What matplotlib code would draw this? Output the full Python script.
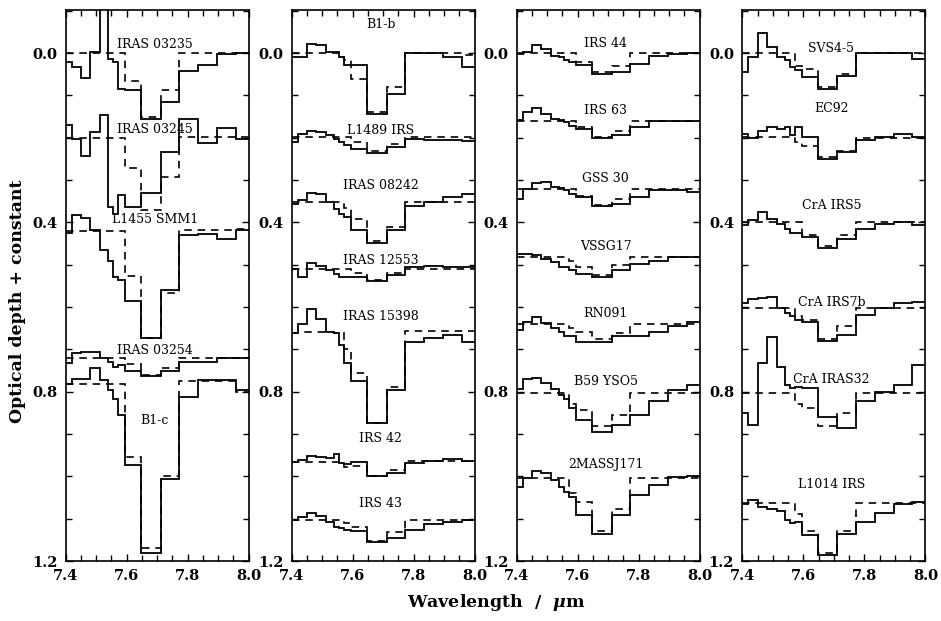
import matplotlib
matplotlib.use('Agg')
import matplotlib.pyplot as plt
from matplotlib.ticker import MultipleLocator

plt.rcParams['font.family'] = 'DejaVu Serif'
plt.rcParams['font.weight'] = 'bold'
plt.rcParams['mathtext.fontset'] = 'dejavuserif'

# common wavelength bin edges (micron)
edges = [7.400, 7.420, 7.450, 7.480, 7.512, 7.540, 7.556, 7.572, 7.596,
         7.648, 7.711, 7.773, 7.835, 7.896, 7.957, 8.000]

# ---------------- panel 1 ----------------
p1_names = ['IRAS 03235', 'IRAS 03245', 'L1455 SMM1', 'IRAS 03254', 'B1-c']
p1_label_y = [-0.021, 0.181, 0.393, 0.702, 0.869]
p1_obs = [
    [0.020, 0.033, 0.059, -0.003, -0.150, 0.013, 0.021, 0.084, 0.088, 0.155, 0.116, 0.041, 0.029, 0.001, 0.000],
    [0.170, 0.202, 0.243, 0.187, 0.146, 0.363, 0.379, 0.335, 0.363, 0.331, 0.233, 0.156, 0.212, 0.176, 0.204],
    [0.425, 0.383, 0.390, 0.418, 0.465, 0.490, 0.530, 0.535, 0.585, 0.674, 0.560, 0.430, 0.428, 0.440, 0.418],
    [0.733, 0.709, 0.707, 0.707, 0.721, 0.729, 0.741, 0.737, 0.750, 0.763, 0.750, 0.729, 0.729, 0.721, 0.721],
    [0.782, 0.769, 0.769, 0.745, 0.772, 0.796, 0.816, 0.855, 0.973, 1.182, 1.006, 0.812, 0.773, 0.773, 0.795],
]
p1_fit = [
    [0.000, 0.000, 0.000, 0.000, 0.000, 0.000, 0.000, 0.000, 0.065, 0.151, 0.087, 0.000, 0.000, 0.000, 0.000],
    [0.200, 0.200, 0.200, 0.200, 0.200, 0.200, 0.200, 0.200, 0.272, 0.370, 0.293, 0.198, 0.198, 0.198, 0.198],
    [0.421, 0.421, 0.421, 0.421, 0.421, 0.421, 0.421, 0.421, 0.527, 0.672, 0.566, 0.417, 0.417, 0.417, 0.415],
    [0.721, 0.721, 0.721, 0.721, 0.721, 0.721, 0.721, 0.721, 0.735, 0.761, 0.745, 0.721, 0.721, 0.721, 0.721],
    [0.782, 0.782, 0.782, 0.782, 0.782, 0.782, 0.782, 0.782, 0.954, 1.170, 1.000, 0.775, 0.775, 0.775, 0.800],
]

# ---------------- panel 2 ----------------
p2_names = ['B1-b', 'L1489 IRS', 'IRAS 08242', 'IRAS 12553', 'IRAS 15398', 'IRS 42', 'IRS 43']
p2_label_y = [-0.068, 0.183, 0.313, 0.491, 0.623, 0.910, 1.065]
p2_obs = [
    [0.008, 0.008, -0.022, -0.020, -0.002, -0.002, 0.009, 0.029, 0.029, 0.143, 0.096, 0.000, 0.000, 0.008, 0.033],
    [0.210, 0.191, 0.183, 0.187, 0.194, 0.202, 0.210, 0.218, 0.226, 0.236, 0.222, 0.202, 0.205, 0.206, 0.208],
    [0.356, 0.348, 0.330, 0.332, 0.352, 0.368, 0.380, 0.387, 0.419, 0.449, 0.419, 0.362, 0.352, 0.340, 0.332],
    [0.509, 0.529, 0.496, 0.502, 0.513, 0.521, 0.528, 0.528, 0.529, 0.539, 0.525, 0.506, 0.502, 0.506, 0.506],
    [0.662, 0.640, 0.604, 0.627, 0.659, 0.662, 0.690, 0.733, 0.775, 0.873, 0.795, 0.682, 0.672, 0.665, 0.682],
    [0.965, 0.961, 0.952, 0.954, 0.957, 0.946, 0.969, 0.971, 0.965, 0.998, 0.993, 0.969, 0.963, 0.960, 0.964],
    [1.103, 1.095, 1.086, 1.094, 1.107, 1.119, 1.121, 1.126, 1.130, 1.154, 1.146, 1.126, 1.112, 1.107, 1.103],
]
p2_fit = [
    [0.000, 0.000, 0.000, 0.000, 0.000, 0.000, 0.009, 0.015, 0.060, 0.139, 0.080, 0.000, 0.000, 0.000, 0.005],
    [0.198, 0.198, 0.198, 0.198, 0.198, 0.198, 0.198, 0.198, 0.210, 0.232, 0.215, 0.198, 0.198, 0.198, 0.198],
    [0.352, 0.352, 0.352, 0.352, 0.352, 0.352, 0.352, 0.365, 0.391, 0.443, 0.410, 0.352, 0.352, 0.352, 0.352],
    [0.509, 0.509, 0.509, 0.509, 0.509, 0.509, 0.509, 0.509, 0.520, 0.535, 0.520, 0.509, 0.509, 0.509, 0.509],
    [0.662, 0.659, 0.659, 0.659, 0.659, 0.662, 0.662, 0.700, 0.756, 0.875, 0.788, 0.656, 0.656, 0.656, 0.656],
    [0.965, 0.965, 0.965, 0.965, 0.965, 0.965, 0.965, 0.977, 0.975, 0.998, 0.985, 0.963, 0.963, 0.963, 0.963],
    [1.103, 1.103, 1.103, 1.103, 1.103, 1.103, 1.103, 1.110, 1.120, 1.152, 1.132, 1.103, 1.103, 1.103, 1.103],
]

# ---------------- panel 3 ----------------
p3_names = ['IRS 44', 'IRS 63', 'GSS 30', 'VSSG17', 'RN091', 'B59 YSO5', '2MASSJ171']
p3_label_y = [-0.024, 0.135, 0.297, 0.457, 0.615, 0.775, 0.973]
p3_obs = [
    [0.002, -0.002, -0.020, -0.010, 0.006, 0.009, 0.017, 0.021, 0.029, 0.050, 0.045, 0.025, 0.006, 0.002, 0.000],
    [0.159, 0.139, 0.129, 0.143, 0.155, 0.159, 0.163, 0.171, 0.179, 0.200, 0.194, 0.175, 0.161, 0.161, 0.161],
    [0.344, 0.320, 0.307, 0.305, 0.317, 0.319, 0.324, 0.332, 0.340, 0.361, 0.356, 0.340, 0.323, 0.324, 0.328],
    [0.474, 0.474, 0.478, 0.486, 0.494, 0.506, 0.506, 0.513, 0.521, 0.528, 0.512, 0.498, 0.490, 0.482, 0.482],
    [0.653, 0.635, 0.624, 0.638, 0.650, 0.658, 0.668, 0.668, 0.683, 0.683, 0.668, 0.668, 0.658, 0.645, 0.635],
    [0.794, 0.771, 0.768, 0.780, 0.794, 0.808, 0.816, 0.839, 0.867, 0.894, 0.879, 0.855, 0.823, 0.796, 0.784],
    [1.024, 1.005, 0.987, 0.991, 1.009, 1.024, 1.037, 1.049, 1.091, 1.135, 1.091, 1.044, 1.020, 1.001, 0.998],
]
p3_fit = [
    [0.000, 0.000, 0.000, 0.000, 0.000, 0.000, 0.000, 0.000, 0.020, 0.045, 0.030, 0.000, 0.000, 0.000, 0.000],
    [0.161, 0.161, 0.161, 0.161, 0.161, 0.161, 0.161, 0.161, 0.175, 0.198, 0.183, 0.161, 0.161, 0.161, 0.161],
    [0.322, 0.322, 0.322, 0.322, 0.322, 0.322, 0.322, 0.322, 0.338, 0.358, 0.345, 0.322, 0.322, 0.322, 0.322],
    [0.482, 0.482, 0.482, 0.482, 0.482, 0.482, 0.482, 0.490, 0.505, 0.525, 0.500, 0.482, 0.482, 0.482, 0.482],
    [0.640, 0.640, 0.640, 0.640, 0.640, 0.640, 0.640, 0.650, 0.660, 0.675, 0.662, 0.640, 0.640, 0.640, 0.640],
    [0.802, 0.802, 0.802, 0.802, 0.802, 0.802, 0.802, 0.830, 0.842, 0.880, 0.855, 0.802, 0.802, 0.802, 0.802],
    [1.003, 1.003, 1.003, 1.003, 1.003, 1.003, 1.003, 1.040, 1.060, 1.130, 1.078, 1.003, 1.003, 1.003, 1.003],
]

# ---------------- panel 4 ----------------
p4_names = ['SVS4-5', 'EC92', 'CrA IRS5', 'CrA IRS7b', 'CrA IRAS32', 'L1014 IRS']
p4_label_y = [-0.010, 0.131, 0.360, 0.588, 0.772, 1.020]
p4_obs = [
    [0.045, 0.008, -0.047, -0.014, 0.009, 0.017, 0.033, 0.039, 0.057, 0.084, 0.053, 0.000, 0.000, 0.000, 0.013],
    [0.191, 0.200, 0.183, 0.175, 0.179, 0.175, 0.194, 0.175, 0.197, 0.250, 0.234, 0.206, 0.197, 0.191, 0.198],
    [0.405, 0.395, 0.376, 0.391, 0.403, 0.415, 0.425, 0.425, 0.435, 0.460, 0.439, 0.415, 0.403, 0.399, 0.405],
    [0.591, 0.582, 0.579, 0.577, 0.602, 0.615, 0.622, 0.630, 0.635, 0.680, 0.666, 0.619, 0.603, 0.590, 0.587],
    [0.851, 0.879, 0.731, 0.670, 0.742, 0.784, 0.792, 0.790, 0.792, 0.859, 0.886, 0.823, 0.800, 0.784, 0.737],
    [1.066, 1.056, 1.073, 1.076, 1.083, 1.103, 1.111, 1.109, 1.138, 1.186, 1.137, 1.107, 1.087, 1.065, 1.061],
]
p4_fit = [
    [0.000, 0.000, 0.000, 0.000, 0.000, 0.000, 0.000, 0.030, 0.037, 0.080, 0.050, 0.000, 0.000, 0.000, 0.000],
    [0.198, 0.198, 0.198, 0.198, 0.198, 0.198, 0.198, 0.210, 0.220, 0.245, 0.230, 0.200, 0.200, 0.200, 0.200],
    [0.399, 0.399, 0.399, 0.399, 0.399, 0.399, 0.399, 0.399, 0.430, 0.455, 0.430, 0.399, 0.399, 0.399, 0.399],
    [0.603, 0.603, 0.603, 0.603, 0.603, 0.603, 0.603, 0.620, 0.630, 0.675, 0.645, 0.603, 0.603, 0.603, 0.603],
    [0.802, 0.802, 0.802, 0.802, 0.802, 0.802, 0.802, 0.830, 0.839, 0.880, 0.851, 0.802, 0.802, 0.802, 0.802],
    [1.062, 1.062, 1.062, 1.062, 1.062, 1.062, 1.062, 1.090, 1.130, 1.180, 1.130, 1.062, 1.062, 1.062, 1.062],
]

panels = [
    (p1_names, p1_label_y, p1_obs, p1_fit),
    (p2_names, p2_label_y, p2_obs, p2_fit),
    (p3_names, p3_label_y, p3_obs, p3_fit),
    (p4_names, p4_label_y, p4_obs, p4_fit),
]

fig = plt.figure(figsize=(9.41, 6.21), dpi=100)

lefts = [0.0698, 0.3100, 0.5491, 0.7889]
for left, (names, label_y, obs, fit) in zip(lefts, panels):
    ax = fig.add_axes([left, 0.0966, 0.1945, 0.8873])
    for name, ly, o, f in zip(names, label_y, obs, fit):
        ax.stairs(f, edges, baseline=None, color='k', lw=1.2,
                  linestyle=(0, (4.5, 3.5)))
        ax.stairs(o, edges, baseline=None, color='k', lw=1.3)
        ax.text(7.692, ly, name, ha='center', va='center', fontsize=9,
                fontweight='normal', zorder=1)
    ax.set_xlim(7.4, 8.0)
    ax.set_ylim(1.2, -0.102)
    ax.xaxis.set_minor_locator(MultipleLocator(0.05))
    ax.yaxis.set_minor_locator(MultipleLocator(0.1))
    ax.set_xticks([7.4, 7.6, 7.8, 8.0])
    ax.set_xticklabels(['7.4', '7.6', '7.8', '8.0'])
    ax.set_yticks([0.0, 0.4, 0.8, 1.2])
    ax.set_yticklabels(['0.0', '0.4', '0.8', '1.2'])
    ax.tick_params(which='both', direction='in', top=True, right=True,
                   width=1.0, labelsize=10.5)
    ax.tick_params(which='major', length=5, pad=6)
    ax.tick_params(which='minor', length=4.5)
    for sp in ax.spines.values():
        sp.set_linewidth(1.2)

fig.text(0.527, 0.029, 'Wavelength  /  $\\mu$m', ha='center', va='center',
         fontsize=12.5)
fig.text(0.019, 0.515, 'Optical depth + constant', ha='center', va='center',
         rotation=90, fontsize=12.5)

fig.savefig('out.png', dpi=100)
